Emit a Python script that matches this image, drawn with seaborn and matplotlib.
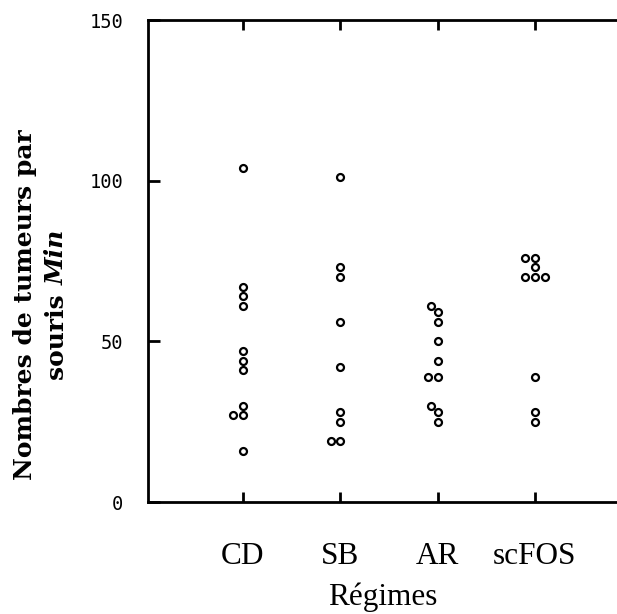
import matplotlib
matplotlib.use("Agg")
import matplotlib.pyplot as plt
import numpy as np
import pandas as pd
import seaborn as sns

# Tumour counts per mouse for each diet
regimes = ["CD", "SB", "AR", "scFOS"]
cd = [104, 67, 64, 61, 47, 44, 41, 30, 27, 27, 16]
sb = [101, 73, 70, 56, 42, 28, 25, 19, 19]
ar = [61, 59, 56, 50, 44, 39, 39, 30, 28, 25]
scfos = [76, 76, 73, 70, 70, 70, 39, 28, 25]
y_ticks = [0, 50, 100, 150]

df = pd.DataFrame({
    "regime": ["CD"] * len(cd) + ["SB"] * len(sb) + ["AR"] * len(ar) + ["scFOS"] * len(scfos),
    "tumeurs": cd + sb + ar + scfos,
})

sns.set_theme(style="ticks")
plt.rcParams["axes.linewidth"] = 2.0

W, H = 617, 614
fig = plt.figure(figsize=(W / 100, H / 100), dpi=100)
ax = fig.add_axes([148 / W, 1 - 502 / H, (W - 148) / W, (502 - 20) / H])

sns.swarmplot(data=df, x="regime", y="tumeurs", order=regimes, ax=ax,
              color="white", edgecolor="black", linewidth=1.6, size=5.0)

ax.set_xlim(-0.976, 3.843)
ax.set_ylim(0, 150)
ax.set_yticks(y_ticks)
ax.set_yticklabels([str(t) for t in y_ticks], fontfamily="DejaVu Sans Mono", fontsize=13.5)

for side in ["left", "bottom", "top"]:
    ax.spines[side].set_color("black")
    ax.spines[side].set_linewidth(2.0)
ax.spines["right"].set_visible(False)

ax.tick_params(axis="y", direction="in", length=8.5, width=2.0, pad=18, colors="black")
ax.tick_params(axis="x", direction="in", length=7, width=2.0, top=True, pad=29, colors="black")
for lab in ax.get_xticklabels():
    lab.set_fontfamily("Liberation Serif")
    lab.set_fontsize(22.5)

ax.set_xlabel("Régimes", fontfamily="Liberation Serif", fontsize=22.5, labelpad=8, color="black")
ax.set_ylabel("")

# Two-line bold y-axis title, second line with italic "Min"
fs = 18
yc = 1 - 305 / H
fig.text(25 / W, yc, "Nombres de tumeurs par", rotation=90, ha="center", va="center",
         fontfamily="DejaVu Serif", fontweight="bold", fontsize=fs, color="black")

fig.canvas.draw()
r = fig.canvas.get_renderer()
t1 = fig.text(0, 0, "souris ", rotation=90, fontfamily="DejaVu Serif", fontweight="bold", fontsize=fs)
t2 = fig.text(0, 0, "Min", rotation=90, fontfamily="DejaVu Serif", fontweight="bold",
              fontstyle="italic", fontsize=fs)
h1 = t1.get_window_extent(r).height / H
h2 = t2.get_window_extent(r).height / H
t1.remove(); t2.remove()
bottom = yc - (h1 + h2) / 2
fig.text(57 / W, bottom, "souris ", rotation=90, ha="center", va="bottom",
         fontfamily="DejaVu Serif", fontweight="bold", fontsize=fs, color="black")
fig.text(57 / W, bottom + h1, "Min", rotation=90, ha="center", va="bottom",
         fontfamily="DejaVu Serif", fontweight="bold", fontstyle="italic", fontsize=fs, color="black")

fig.savefig("out.png", dpi=100)
